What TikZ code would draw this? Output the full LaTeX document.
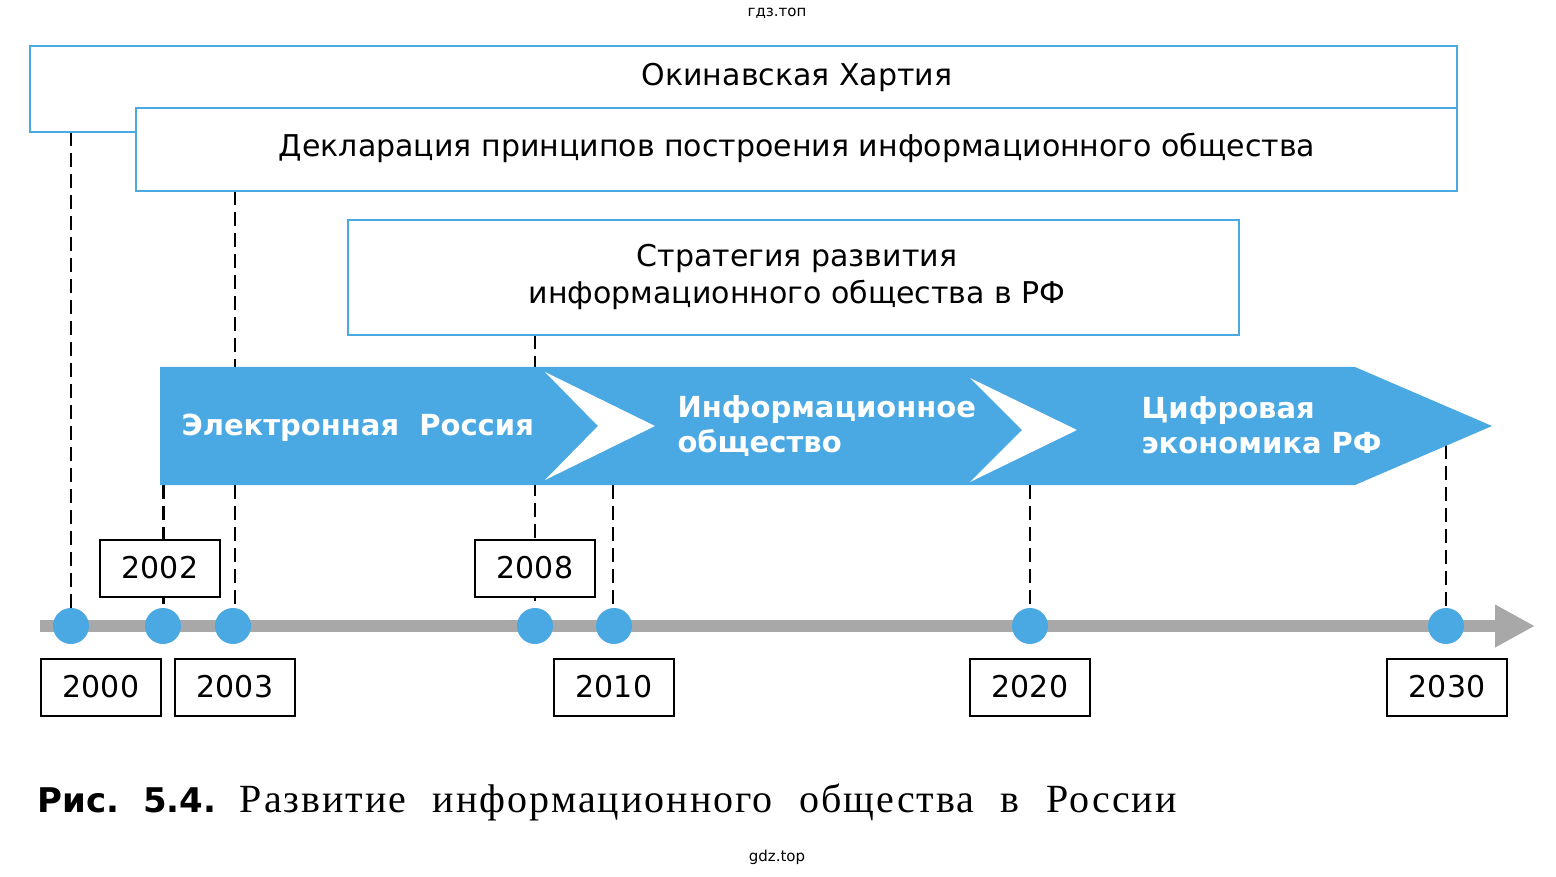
\documentclass[tikz,border=0pt]{standalone}
\usepackage{fontspec}
\setmainfont{DejaVu Sans}
\newfontfamily\capserif[WordSpace=2.2]{Liberation Serif}
\newfontfamily\capsans{DejaVu Sans}
\usetikzlibrary{positioning,arrows.meta}
\definecolor{skyblue}{HTML}{4AA8E3}
\definecolor{railgray}{HTML}{A8A8A8}
\begin{document}
\begin{tikzpicture}[x=1pt,y=-1pt,
    doc box/.style={draw=skyblue,line width=2.5pt,fill=white},
    doc text/.style={font=\fontsize{30}{37}\selectfont,align=center},
    year box/.style={draw=black,line width=2pt,fill=white,minimum width=120pt,minimum height=57pt,font=\fontsize{30}{32}\selectfont},
    year dot/.style={circle,fill=skyblue,minimum size=36pt,inner sep=0pt},
    guide/.style={dash pattern=on 14pt off 7pt,line width=1.5pt},
    phase/.style={text=white,font=\fontsize{29}{35}\selectfont\bfseries,align=left,anchor=west}]
    \useasboundingbox (0,0) rectangle (1556,877);
    \node (top) at (777,13) {\fontsize{15}{18}\selectfont гдз.топ};
    \node (bottom) at (777,857) {\fontsize{15}{18}\selectfont gdz.top};

    % timeline
    \coordinate (t0) at (40,626);
    \coordinate (t1) at (1535,626);
    \draw[railgray,line width=12pt,-{Triangle[length=40pt,width=40pt]}] (t0) -- (t1);

    % guides
    \draw[guide] (71,132) -- (71,626);
    \draw[guide] (235,191) -- (235,626);
    \draw[guide] (535,335) -- (535,626);
    \draw[guide] (613,485) -- (613,626);
    \draw[guide] (1030,485) -- (1030,626);
    \draw[guide] (1446,445) -- (1446,626);
    \draw[guide,line width=3pt] (163,485) -- (163,626);

    % documents
    \draw[doc box] (30,46) rectangle (1457,132);
    \node[doc text] (okinawa) at (797,77) {Окинавская Хартия};
    \draw[doc box] (136,108) rectangle (1457,191);
    \node[doc text] (decl) at (797,148) {Декларация принципов построения информационного общества};
    \draw[doc box] (348,220) rectangle (1239,335);
    \node[doc text] (strat) at (797,277) {Стратегия развития\\информационного общества в РФ};

    % phases
    \fill[skyblue] (160,367) -- (1355,367) -- (1492,426) -- (1355,485) -- (160,485) -- cycle;
    \fill[white] (545,372) -- (655,426) -- (545,480) -- (598,426) -- cycle;
    \fill[white] (970,378) -- (1077,430) -- (970,482) -- (1022,430) -- cycle;
    \node[phase] (ph1) at (178,428) {Электронная\ \ Россия};
    \node[phase] (ph2) at (674,426) {Информационное\\общество};
    \node[phase] (ph3) at (1138,425) {Цифровая\\экономика РФ};

    % years
    \foreach \yx/\nm in {71/a,163/b,233/c,535/d,614/e,1030/f,1446/g}
        \node[year dot] (dot\nm) at (\yx,626) {};
    \node[year box] (y2002) at (160,568) {2002};
    \node[year box] (y2008) at (535,568) {2008};
    \node[year box] (y2000) at (101,687) {2000};
    \node[year box] (y2003) at (235,687) {2003};
    \node[year box] (y2010) at (614,687) {2010};
    \node[year box] (y2020) at (1030,687) {2020};
    \node[year box] (y2030) at (1447,687) {2030};

    % caption
    \node[anchor=west] (cap) at (34,802) {\fontsize{34}{38}\selectfont\capsans\bfseries Рис.\ \ 5.4.\ \ \capserif\mdseries\fontsize{40}{44}\selectfont\addfontfeature{LetterSpace=5}Развитие информационного общества в России};
\end{tikzpicture}
\end{document}
